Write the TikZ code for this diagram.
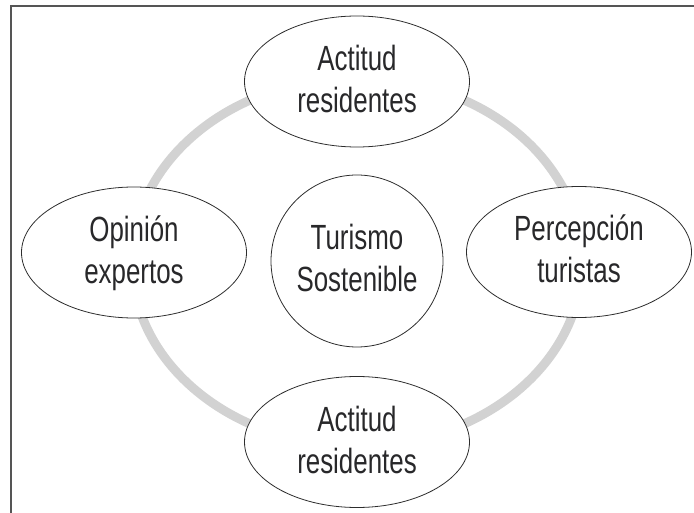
\documentclass[tikz,border=0pt]{standalone}
\usepackage{fontspec}
\newfontfamily\lblfont{Liberation Sans}[FakeStretch=0.74]
\usetikzlibrary{shapes.geometric}
\definecolor{ringgray}{RGB}{210,210,210}
\definecolor{framegray}{RGB}{85,85,85}
\definecolor{edgegray}{RGB}{45,45,45}
\definecolor{txt}{RGB}{40,40,42}
\tikzset{
  oval/.style={ellipse, draw=edgegray, line width=0.8pt, fill=white, inner sep=0pt,
    minimum width=225pt, minimum height=131pt},
  disc/.style={circle, draw=edgegray, line width=0.8pt, fill=white, inner sep=0pt,
    minimum size=172pt},
  lbl/.style={align=center, text=txt, inner sep=0pt,
    font=\lblfont\fontsize{35pt}{42pt}\selectfont},
}
\begin{document}
\begin{tikzpicture}[x=1pt,y=-1pt]
\useasboundingbox (0,0) rectangle (694,513);
% frame (top and left edges)
\coordinate (fbl) at (11,513);
\coordinate (ftl) at (11,6);
\coordinate (ftr) at (694,6);
\draw[framegray, line width=2pt] (fbl) -- (ftl) -- (ftr);
% gray ring
\node[ellipse, draw=ringgray, line width=9pt, inner sep=0pt,
  minimum width=450pt, minimum height=368pt] (ring) at (357,262) {};
% shapes
\node[oval] (top) at (357,81.5) {};
\node[oval] (left) at (134,252.5) {};
\node[oval] (right) at (579,252) {};
\node[oval] (bottom) at (357,442) {};
\node[disc] (center) at (357,261) {};
% labels
\node[lbl] (ttop) at ([yshift=-10pt]top.center) {\smash{Actitud}\\\smash{residentes}};
\node[lbl] (tleft) at ([yshift=-10pt]left.center) {\smash{Opinión}\\\smash{expertos}};
\node[lbl] (tright) at ([yshift=-10pt]right.center) {\smash{Percepción}\\\smash{turistas}};
\node[lbl] (tbottom) at ([yshift=-10pt]bottom.center) {\smash{Actitud}\\\smash{residentes}};
\node[lbl] (tcenter) at ([yshift=-10pt]center.center) {\smash{Turismo}\\\smash{Sostenible}};
\end{tikzpicture}
\end{document}
